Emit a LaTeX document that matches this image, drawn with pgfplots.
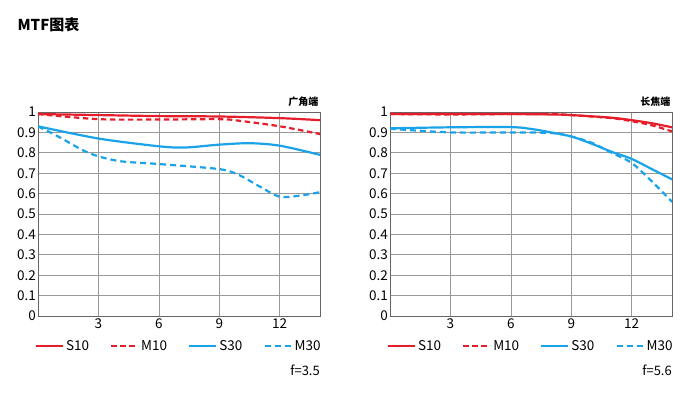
\documentclass[border=0pt]{standalone}
\usepackage{fontspec}
\setmainfont{Noto Sans CJK SC}
\usepackage{pgfplots}
\pgfplotsset{compat=1.18}
\definecolor{mred}{HTML}{E61E2B}
\definecolor{mblue}{HTML}{1AA3E8}
\pgfplotsset{
  mtf/.style={
    scale only axis, width=282pt, height=204pt,
    xmin=0, xmax=14, ymin=0, ymax=1,
    clip mode=individual,
    xtick={3,6,9,12}, ytick={0,0.1,...,1},
    yticklabels={0,0.1,0.2,0.3,0.4,0.5,0.6,0.7,0.8,0.9,1},
    /pgf/number format/assume math mode=true,
    tick style={draw=none},
    grid=major, major grid style={gray!80, line width=0.7pt},
    axis line style={black!60, line width=0.8pt},
    tick label style={font=\fontsize{13.5}{13.5}\selectfont},
    yticklabel style={xshift=1.5pt},
    xticklabel style={yshift=1pt},
    legend columns=4,
    legend style={draw=none, fill=none, inner sep=0pt, font=\fontsize{13.5}{13.5}\selectfont,
      /tikz/every even column/.append style={column sep=19pt}},
    legend cell align=left,
    legend image code/.code={\draw[#1] (0pt,0pt) -- (27pt,0pt);},
  },
  s10/.style={mred, line width=2.2pt, smooth},
  m10/.style={mred, line width=2.2pt, dash pattern=on 5.5pt off 3.5pt, smooth},
  s30/.style={mblue, line width=2.2pt, smooth},
  m30/.style={mblue, line width=2.2pt, dash pattern=on 6pt off 4pt, smooth},
}
\begin{document}
\begin{tikzpicture}
\path[use as bounding box] (0pt,0pt) rectangle (700pt,-397pt);
\node[anchor=west, font=\fontsize{15}{15}\selectfont\bfseries] at (14pt,-25pt) {MTF图表};
\begin{axis}[mtf, at={(38pt,-316pt)}, anchor=south west,
  legend style={at={(-0.012,-0.148)}, anchor=west}]
\addplot[s10] coordinates {(0,0.99) (3,0.985) (6,0.98) (9,0.978) (12,0.97) (14,0.96)};
\addplot[m10] coordinates {(0,0.99) (3,0.965) (6,0.963) (9,0.965) (10,0.957) (12,0.93) (14,0.892)};
\addplot[s30] coordinates {(0,0.93) (3,0.87) (6,0.832) (7.3,0.826) (9,0.84) (10.5,0.847) (12,0.835) (14,0.79)};
\addplot[m30] coordinates {(0,0.93) (1,0.88) (2.5,0.8) (4,0.76) (6,0.745) (9,0.72) (10,0.69) (11,0.635) (12,0.585) (13,0.59) (14,0.607)};
\legend{S10,M10,S30,M30}
\node[anchor=south east, inner sep=0pt, font=\fontsize{10}{10}\selectfont\bfseries] at (rel axis cs:0.995,1.025) {广角端};
\node[anchor=east, inner sep=0pt, font=\fontsize{13}{13}\selectfont] at (rel axis cs:1,-0.265) {f=3.5};
\end{axis}
\begin{axis}[mtf, at={(390pt,-316pt)}, anchor=south west,
  legend style={at={(-0.012,-0.148)}, anchor=west}]
\addplot[s10] coordinates {(0,0.99) (3,0.99) (6,0.99) (8,0.988) (9,0.985) (11,0.972) (12,0.96) (13,0.945) (14,0.925)};
\addplot[m10] coordinates {(0,0.99) (3,0.988) (6,0.99) (8,0.99) (9,0.985) (11,0.97) (12,0.955) (13,0.935) (14,0.905)};
\addplot[s30] coordinates {(0,0.92) (3,0.925) (6,0.926) (7,0.917) (8,0.9) (9,0.88) (10,0.845) (11,0.805) (12,0.77) (13,0.72) (14,0.67)};
\addplot[m30] coordinates {(0,0.918) (3,0.9) (6,0.9) (8,0.897) (9,0.88) (10,0.85) (11,0.8) (12,0.75) (13,0.66) (14,0.56)};
\legend{S10,M10,S30,M30}
\node[anchor=south east, inner sep=0pt, font=\fontsize{10}{10}\selectfont\bfseries] at (rel axis cs:0.995,1.025) {长焦端};
\node[anchor=east, inner sep=0pt, font=\fontsize{13}{13}\selectfont] at (rel axis cs:1,-0.265) {f=5.6};
\end{axis}
\end{tikzpicture}
\end{document}
